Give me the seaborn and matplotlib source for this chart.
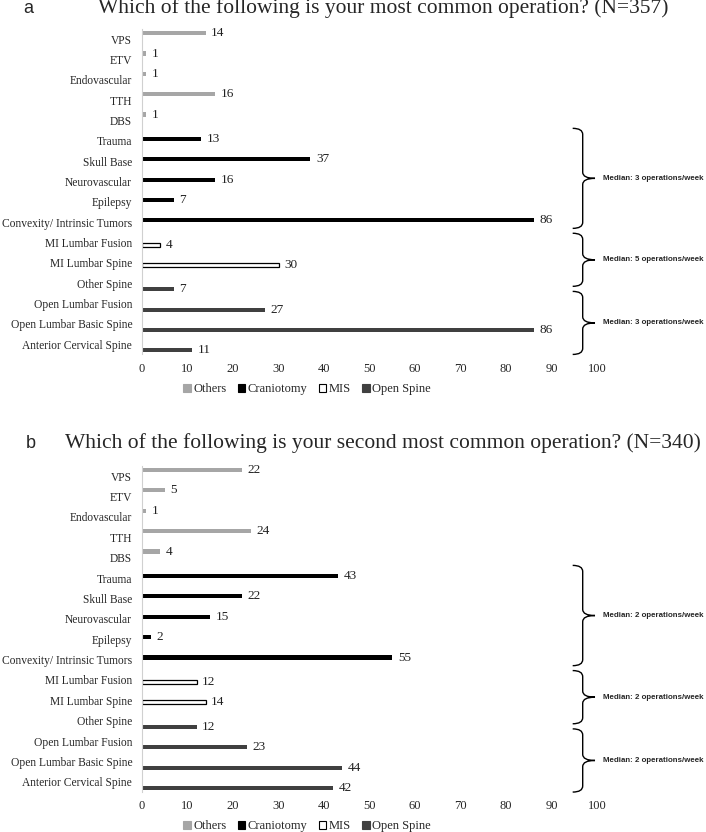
import matplotlib.pyplot as plt
import numpy as np
import pandas as pd
import seaborn as sns
from matplotlib.patches import Patch, PathPatch
from matplotlib.path import Path

operations = ['VPS', 'ETV', 'Endovascular', 'TTH', 'DBS',
              'Trauma', 'Skull Base', 'Neurovascular', 'Epilepsy', 'Convexity/ Intrinsic Tumors',
              'MI Lumbar Fusion', 'MI Lumbar Spine',
              'Other Spine', 'Open Lumbar Fusion', 'Open Lumbar Basic Spine', 'Anterior Cervical Spine']
groups = ['Others'] * 5 + ['Craniotomy'] * 5 + ['MIS'] * 2 + ['Open Spine'] * 4
most_common = [14, 1, 1, 16, 1, 13, 37, 16, 7, 86, 4, 30, 7, 27, 86, 11]
second_common = [22, 5, 1, 24, 4, 43, 22, 15, 2, 55, 12, 14, 12, 23, 44, 42]
group_order = ['Others', 'Craniotomy', 'MIS', 'Open Spine']
medians_a = ['Median: 3 operations/week', 'Median: 5 operations/week', 'Median: 3 operations/week']
medians_b = ['Median: 2 operations/week', 'Median: 2 operations/week', 'Median: 2 operations/week']

colors = {'Others': '#a6a6a6', 'Craniotomy': '#000000', 'MIS': '#ffffff', 'Open Spine': '#404040'}

sns.set_style("white")
plt.rcParams['font.family'] = ['Liberation Serif', 'DejaVu Serif']

fig = plt.figure(figsize=(7.06, 8.32), dpi=100)
ax_a = fig.add_axes([0.201, 0.574, 0.645, 0.391])
ax_b = fig.add_axes([0.201, 0.048, 0.645, 0.392])


def brace(ax, y0, y1, x=96.8, w=2.2, tip=2.7):
    r = 0.3
    ym = (y0 + y1) / 2
    verts = [(x - w, y0), (x, y0), (x, y0 + r), (x, ym - r), (x, ym), (x + tip, ym),
             (x, ym), (x, ym + r), (x, y1 - r), (x, y1), (x - w, y1)]
    codes = [Path.MOVETO, Path.CURVE3, Path.CURVE3, Path.LINETO, Path.CURVE3, Path.CURVE3,
             Path.CURVE3, Path.CURVE3, Path.LINETO, Path.CURVE3, Path.CURVE3]
    ax.add_patch(PathPatch(Path(verts, codes), fill=False, lw=1.0, color='black', clip_on=False))


def draw_panel(ax, values, medians):
    df = pd.DataFrame({'Operation': operations, 'Count': values, 'Group': groups})
    sns.barplot(data=df, y='Operation', x='Count', hue='Group', hue_order=group_order,
                order=operations, orient='h', palette=colors, dodge=True, width=0.8,
                edgecolor='none', legend=False, ax=ax)
    for cont, g in zip(ax.containers, group_order):
        if g == 'MIS':
            for p in cont:
                p.set_edgecolor('black')
                p.set_linewidth(0.9)
        ax.bar_label(cont, labels=[f'{p.get_width():g}' for p in cont], padding=4,
                     fontsize=9.5, color='#222222')
    ax.set_xlim(0, 100)
    ax.set_ylim(15.5, -0.5)
    ax.set_xticks(np.arange(0, 101, 10))
    ax.set_xlabel('')
    ax.set_ylabel('')
    ax.tick_params(axis='y', length=0, labelsize=8.3, colors='#262626', pad=7)
    ax.tick_params(axis='x', length=0, pad=6, labelsize=9, colors='#262626')
    for s in ['top', 'right', 'bottom']:
        ax.spines[s].set_visible(False)
    ax.spines['left'].set_color('#d0d0d0')
    spans = [(4.38, 9.3), (9.54, 12.15), (12.4, 15.5)]
    for (y0, y1), txt in zip(spans, medians):
        brace(ax, y0, y1)
        ax.text(101.2, (y0 + y1) / 2, txt, fontsize=5.7, fontweight='bold',
                family=['Liberation Sans', 'DejaVu Sans'], va='center', ha='left', clip_on=False)


draw_panel(ax_a, most_common, medians_a)
draw_panel(ax_b, second_common, medians_b)

handles = [Patch(facecolor=colors[g], edgecolor='black' if g == 'MIS' else colors[g], lw=0.8)
           for g in group_order]
for yy in [0.532, 0.007]:
    fig.legend(handles, group_order, loc='center', bbox_to_anchor=(0.435, yy), ncol=4,
               frameon=False, fontsize=9, handlelength=0.6, handleheight=0.6,
               handletextpad=0.2, columnspacing=0.9, labelcolor='#262626')

fig.text(0.543, 0.990, 'Which of the following is your most common operation? (N=357)',
         ha='center', va='center', fontsize=15.5)
fig.text(0.543, 0.467, 'Which of the following is your second most common operation? (N=340)',
         ha='center', va='center', fontsize=15.5)
fig.text(0.033, 0.990, 'a', ha='left', va='center', fontsize=13,
         family=['Liberation Sans', 'DejaVu Sans'])
fig.text(0.036, 0.467, 'b', ha='left', va='center', fontsize=13,
         family=['Liberation Sans', 'DejaVu Sans'])

fig.savefig('out.png', dpi=100)
